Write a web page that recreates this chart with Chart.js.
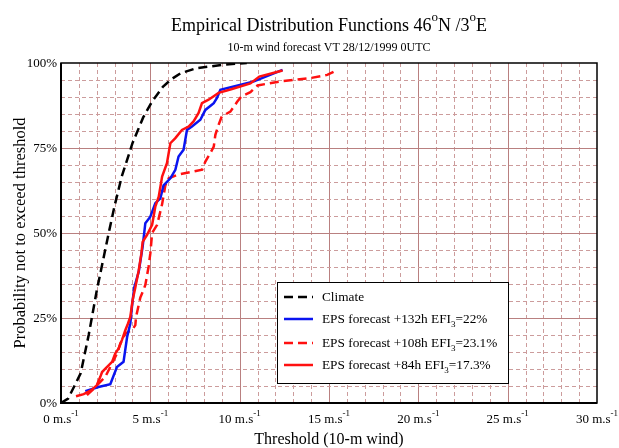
<!DOCTYPE html>
<html>
<head>
<meta charset="utf-8">
<script src="https://cdn.jsdelivr.net/npm/chart.js@4.4.0/dist/chart.umd.min.js"></script>
<style>
html, body { margin: 0; padding: 0; background: #fff; }
#wrap { width: 619px; height: 448px; position: relative; }
</style>
</head>
<body>
<div id="wrap"><canvas id="c"></canvas></div>
<script>
// threshold (m/s) / probability (%) pairs
const climateX = [0, 0.4, 1.1, 1.55, 2.0, 2.67, 3.0, 3.4, 4.0, 4.6, 5.1, 5.7, 6.2, 6.7, 7.6, 9.1, 10.4];
const climateY = [0, 1.3, 8.7, 20, 33, 50, 58, 66.6, 76.4, 84, 88.7, 93, 95.3, 97, 98.5, 99.5, 100];

const eps132X = [1.36, 2.1, 2.76, 3.13, 3.5, 3.7, 3.88, 3.97, 4.1, 4.35, 4.57, 4.72, 5.0, 5.28, 5.56, 5.74, 6.12, 6.4, 6.58, 6.86, 7.05, 7.33, 7.8, 8.08, 8.55, 8.73, 8.92, 10.8, 12.4];
const eps132Y = [3.5, 4.7, 5.5, 10.6, 12.1, 19.4, 23.4, 28.3, 34, 38.6, 46, 52.9, 54.8, 58.8, 60.2, 64, 66.1, 68.6, 72.5, 74.5, 80.3, 81.3, 83.3, 86.2, 88.2, 89.7, 92.1, 94.6, 98];

const eps108X = [1.45, 1.83, 2.48, 2.95, 3.17, 3.32, 3.6, 3.79, 3.97, 4.16, 4.2, 4.44, 4.6, 4.72, 4.9, 5.0, 5.1, 5.38, 5.66, 5.84, 6.03, 6.5, 7.9, 8.08, 8.36, 8.55, 8.64, 8.82, 9.0, 9.48, 9.85, 10.1, 10.6, 11.0, 12.3, 14.0, 14.9, 15.5];
const eps108Y = [2.3, 4.2, 7.7, 12.6, 15, 17.5, 20.4, 21, 21.4, 22.9, 25.3, 31, 33, 34.7, 40, 44, 50, 52.4, 58.5, 64, 66.1, 67.1, 68.6, 71, 73.5, 75.4, 78.9, 81.8, 84.3, 85.7, 88.5, 90.2, 91.4, 93.4, 94.6, 95.6, 96.5, 98];

const eps84X = [0.84, 1.27, 1.73, 2.0, 2.2, 2.3, 2.58, 2.86, 3.04, 3.22, 3.41, 3.6, 3.75, 3.88, 4.01, 4.16, 4.35, 4.5, 4.57, 4.81, 5.1, 5.28, 5.47, 5.66, 5.93, 6.12, 6.4, 6.77, 7.14, 7.42, 7.7, 7.89, 8.26, 8.82, 9.48, 10.6, 11.1, 12.4];
const eps84Y = [2, 2.6, 3.9, 5.2, 7.7, 9.1, 10.6, 12.1, 14.6, 16, 18.5, 21.4, 23.4, 25.3, 30.3, 34, 39, 44, 47.4, 49.4, 52.4, 57.8, 60.7, 66.6, 70.5, 76.4, 77.9, 80.3, 81.3, 82.8, 85.3, 88.2, 89.2, 91.2, 92.2, 94, 96, 97.8];

const seriesLabels = ['Climate', 'EPS forecast +132h EFI_3=22%', 'EPS forecast +108h EFI_3=23.1%', 'EPS forecast +84h EFI_3=17.3%'];
const xTicks = [0, 5, 10, 15, 20, 25, 30];
const yTicks = [0, 25, 50, 75, 100];

const FONT = "'Liberation Serif', 'Times New Roman', serif";

function pts(xs, ys) {
    return xs.map((v, i) => ({ x: v, y: ys[i] }));
}

// parts: [[text, 'sup'|'sub'|'']]
function richWidth(ctx, parts, size) {
    let w = 0;
    parts.forEach(p => {
        ctx.font = (p[1] ? Math.round(size * 0.7) : size) + 'px ' + FONT;
        w += ctx.measureText(p[0]).width;
    });
    return w;
}
function drawRich(ctx, parts, x, y, size, align) {
    const w = richWidth(ctx, parts, size);
    let cx = align === 'center' ? x - w / 2 : (align === 'right' ? x - w : x);
    ctx.textAlign = 'left';
    ctx.textBaseline = 'alphabetic';
    parts.forEach(p => {
        let dy = 0;
        if (p[1] === 'sup') dy = -size * 0.55;
        if (p[1] === 'sub') dy = size * 0.3;
        ctx.font = (p[1] ? Math.round(size * 0.7) : size) + 'px ' + FONT;
        ctx.fillText(p[0], cx, y + dy);
        cx += ctx.measureText(p[0]).width;
    });
}
function labelParts(s) {
    const i = s.indexOf('_');
    if (i < 0) return [[s, '']];
    return [[s.slice(0, i), ''], [s.charAt(i + 1), 'sub'], [s.slice(i + 2), '']];
}

const decor = {
    id: 'decor',
    beforeDatasetsDraw(chart) {
        const { ctx, chartArea: a, scales: { x, y } } = chart;
        ctx.save();
        ctx.lineWidth = 1;
        for (let v = 1; v < 30; v++) {
            const px = Math.round(x.getPixelForValue(v)) + 0.5;
            const major = v % 5 === 0;
            ctx.strokeStyle = major ? '#b98080' : '#cc9c9c';
            ctx.setLineDash(major ? [] : [4, 3]);
            ctx.beginPath(); ctx.moveTo(px, a.top); ctx.lineTo(px, a.bottom); ctx.stroke();
        }
        for (let v = 5; v < 100; v += 5) {
            const py = Math.round(y.getPixelForValue(v)) + 0.5;
            const major = v % 25 === 0;
            ctx.strokeStyle = major ? '#b98080' : '#cc9c9c';
            ctx.setLineDash(major ? [] : [4, 3]);
            ctx.beginPath(); ctx.moveTo(a.left, py); ctx.lineTo(a.right, py); ctx.stroke();
        }
        ctx.restore();
    },
    afterDraw(chart) {
        const { ctx, chartArea: a, scales: { x, y } } = chart;
        ctx.save();
        // frame
        ctx.strokeStyle = '#000';
        ctx.lineWidth = 1.5;
        ctx.strokeRect(a.left, a.top, a.right - a.left, a.bottom - a.top);
        ctx.lineWidth = 2;
        ctx.beginPath(); ctx.moveTo(a.left, a.top); ctx.lineTo(a.left, a.bottom); ctx.lineTo(a.right, a.bottom); ctx.stroke();
        ctx.fillStyle = '#000';

        // titles
        const cx = (a.left + a.right) / 2;
        drawRich(ctx, [['Empirical Distribution Functions 46', ''], ['o', 'sup'], ['N /3', ''], ['o', 'sup'], ['E', '']], cx, 31, 18, 'center');
        drawRich(ctx, [['10-m wind forecast VT 28/12/1999 0UTC', '']], cx, 51, 12, 'center');

        // tick labels
        yTicks.forEach(v => {
            drawRich(ctx, [[v + '%', '']], a.left - 4, y.getPixelForValue(v) + 4, 13, 'right');
        });
        xTicks.forEach(v => {
            drawRich(ctx, [[v + ' m.s', ''], ['-1', 'sup']], x.getPixelForValue(v), 423, 13, 'center');
        });

        drawRich(ctx, [['Threshold (10-m wind)', '']], cx, 444, 16, 'center');
        ctx.save();
        ctx.translate(25, (a.top + a.bottom) / 2);
        ctx.rotate(-Math.PI / 2);
        drawRich(ctx, [['Probability not to exceed threshold', '']], 0, 0, 16.5, 'center');
        ctx.restore();

        // legend box
        const bx = 277, by = 282, bw = 231, bh = 101;
        ctx.fillStyle = '#fff';
        ctx.fillRect(bx, by, bw, bh);
        ctx.strokeStyle = '#000';
        ctx.lineWidth = 1;
        ctx.strokeRect(bx + 0.5, by + 0.5, bw, bh);
        const rows = [297, 319, 343, 365];
        chart.data.datasets.forEach((ds, i) => {
            const ry = rows[i];
            ctx.strokeStyle = ds.borderColor;
            ctx.lineWidth = 2.5;
            ctx.setLineDash(ds.borderDash || []);
            ctx.beginPath(); ctx.moveTo(284, ry); ctx.lineTo(313, ry); ctx.stroke();
            ctx.setLineDash([]);
            ctx.fillStyle = '#000';
            drawRich(ctx, labelParts(ds.label), 322, ry + 4, 13.3, 'left');
        });
        ctx.restore();
    }
};

new Chart(document.getElementById('c'), {
    type: 'line',
    data: {
        datasets: [
            { label: seriesLabels[0], data: pts(climateX, climateY), borderColor: '#000000', borderDash: [9, 5], borderWidth: 2.5, order: 4 },
            { label: seriesLabels[1], data: pts(eps132X, eps132Y), borderColor: '#0a14f0', borderWidth: 2.5, order: 2 },
            { label: seriesLabels[2], data: pts(eps108X, eps108Y), borderColor: '#ff1010', borderDash: [9, 5], borderWidth: 2.5, order: 3 },
            { label: seriesLabels[3], data: pts(eps84X, eps84Y), borderColor: '#ff1010', borderWidth: 2.5, order: 1 }
        ]
    },
    options: {
        responsive: true,
        maintainAspectRatio: false,
        animation: false,
        devicePixelRatio: 1,
        layout: { padding: { left: 61, top: 63, right: 22, bottom: 45 } },
        elements: { point: { radius: 0 }, line: { tension: 0, fill: false } },
        scales: {
            x: { type: 'linear', min: 0, max: 30, display: false },
            y: { type: 'linear', min: 0, max: 100, display: false }
        },
        plugins: { legend: { display: false }, title: { display: false }, tooltip: { enabled: false } }
    },
    plugins: [decor]
});
</script>
</body>
</html>
